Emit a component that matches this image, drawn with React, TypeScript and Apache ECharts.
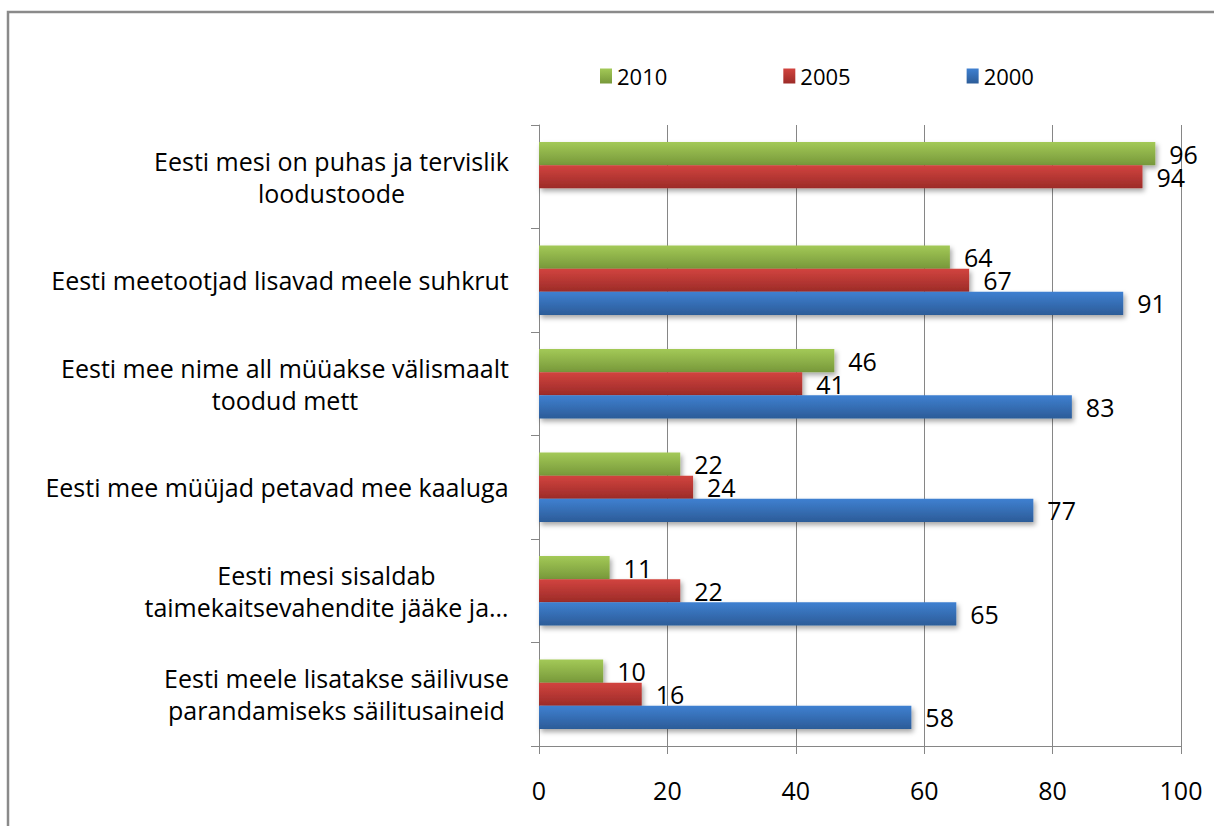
import React, { useEffect, useRef } from "react";
import * as echarts from "echarts";

const categories: string[] = [
  "Eesti mesi on puhas ja tervislik\nloodustoode",
  "Eesti meetootjad lisavad meele suhkrut",
  "Eesti mee nime all müüakse välismaalt\ntoodud mett",
  "Eesti mee müüjad petavad mee kaaluga",
  "Eesti mesi sisaldab\ntaimekaitsevahendite jääke ja…",
  "Eesti meele lisatakse säilivuse\nparandamiseks säilitusaineid",
];
const seriesNames: string[] = ["2010", "2005", "2000"];
const values2010: (number | null)[] = [96, 64, 46, 22, 11, 10];
const values2005: (number | null)[] = [94, 67, 41, 24, 22, 16];
const values2000: (number | null)[] = [null, 91, 83, 77, 65, 58];
const xTicks: number[] = [0, 20, 40, 60, 80, 100];

const FONT = '"Open Sans", "Noto Sans", sans-serif';
const LABEL_SIZE = 25;
const NUM_SIZE = 25;

function grad(top: string, bottom: string) {
  return new echarts.graphic.LinearGradient(0, 0, 0, 1, [
    { offset: 0, color: top },
    { offset: 1, color: bottom },
  ]);
}

export default function App() {
  const ref = useRef<HTMLDivElement>(null);
  useEffect(() => {
    if (!ref.current) return;
    const chart = echarts.init(ref.current, null, { renderer: "svg" });

    const canvas = document.createElement("canvas");
    const ctx = canvas.getContext("2d")!;
    ctx.font = `${LABEL_SIZE}px ${FONT}`;
    const rich: Record<string, any> = {};
    categories.forEach((c, i) => {
      const w = Math.max(...c.split("\n").map((l) => ctx.measureText(l).width));
      rich["c" + i] = {
        width: Math.ceil(w) + 2,
        align: "center",
        fontSize: LABEL_SIZE,
        fontFamily: FONT,
        color: "#000",
        lineHeight: 32,
      };
    });

    const dataSets = [values2010, values2005, values2000];
    const colors = [
      ["#a3c957", "#77983a"],
      ["#d2443f", "#9c2b28"],
      ["#3f80d1", "#2c5c98"],
    ];

    chart.setOption({
      animation: false,
      backgroundColor: "#fff",
      textStyle: { fontFamily: FONT },
      graphic: [
        {
          type: "rect",
          shape: { x: 8, y: 12, width: 1230, height: 840 },
          style: { fill: "none", stroke: "#8a8a8a", lineWidth: 2.5 },
          silent: true,
        },
      ],
      legend: {
        data: seriesNames,
        left: 595,
        top: 59,
        itemWidth: 12,
        itemHeight: 15,
        itemGap: 116,
        icon: "rect",
        itemStyle: { shadowBlur: 0, shadowOffsetX: 0, shadowOffsetY: 0 },
        textStyle: { fontSize: 22, color: "#000", fontFamily: FONT, lineHeight: 24 },
      },
      grid: { left: 539, right: 33, top: 125, bottom: 80 },
      xAxis: {
        type: "value",
        min: xTicks[0],
        max: xTicks[xTicks.length - 1],
        interval: xTicks[1] - xTicks[0],
        axisLine: { show: true, lineStyle: { color: "#868686", width: 1 } },
        axisTick: { show: true, length: 8, lineStyle: { color: "#868686" } },
        splitLine: { show: true, lineStyle: { color: "#868686", width: 1 } },
        axisLabel: { fontSize: NUM_SIZE, color: "#000", margin: 31, fontFamily: FONT },
      },
      yAxis: {
        type: "category",
        inverse: true,
        data: categories,
        axisLine: { show: true, lineStyle: { color: "#868686", width: 1 } },
        axisTick: { show: true, length: 8, lineStyle: { color: "#868686" } },
        axisLabel: {
          margin: 29,
          align: "right",
          fontSize: LABEL_SIZE,
          fontFamily: FONT,
          color: "#000",
          lineHeight: 32,
          rich,
          formatter: (v: string, i: number) =>
            v
              .split("\n")
              .map((l) => `{c${i}|${l}}`)
              .join("\n"),
        },
      },
      series: seriesNames.map((name, si) => ({
        name,
        type: "bar",
        data: dataSets[si],
        barGap: "0%",
        barCategoryGap: "33%",
        itemStyle: {
          color: grad(colors[si][0], colors[si][1]),
          shadowBlur: 5,
          shadowColor: "rgba(0,0,0,0.35)",
          shadowOffsetX: 2,
          shadowOffsetY: 3,
        },
        label: {
          show: true,
          position: "right",
          distance: 14,
          fontSize: NUM_SIZE,
          fontFamily: FONT,
          color: "#000",
        },
      })),
    });
    return () => chart.dispose();
  }, []);
  return (
    <div
      ref={ref}
      style={{ position: "fixed", left: 0, top: 0, width: 1214, height: 826 }}
    />
  );
}
